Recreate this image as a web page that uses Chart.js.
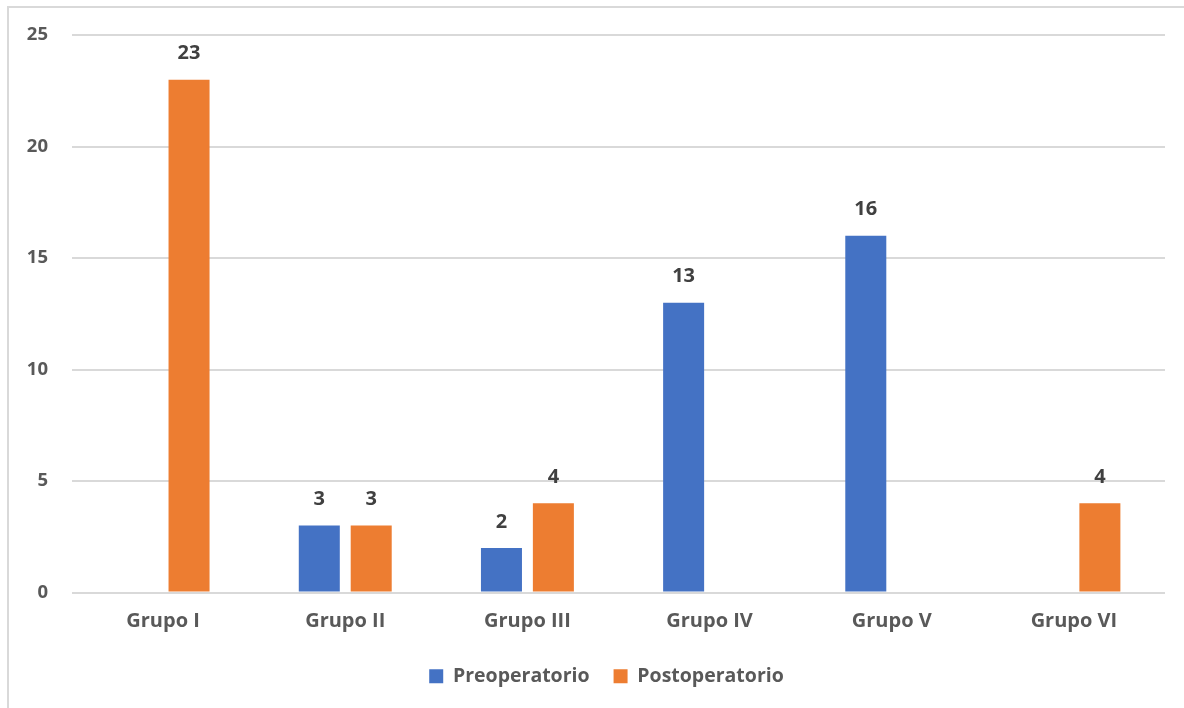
<!DOCTYPE html>
<html>
<head>
<meta charset="utf-8">
<script src="https://cdn.jsdelivr.net/npm/chart.js@4"></script>
<style>
  html, body { margin: 0; padding: 0; background: #fff; overflow: hidden; }
  .frame { position: absolute; left: 7px; top: 6px; width: 1220px; height: 740px; border: 2px solid #d9d9d9; }
  .wrap { position: absolute; left: 0; top: 0; width: 1184px; height: 708px; }
</style>
</head>
<body>
<div class="frame"></div>
<div class="wrap"><canvas id="grupos"></canvas></div>
<script>
const categories = ['Grupo I', 'Grupo II', 'Grupo III', 'Grupo IV', 'Grupo V', 'Grupo VI'];
const preoperatorio = [null, 3, 2, 13, 16, null];
const postoperatorio = [23, 3, 4, null, null, 4];
const yTicks = [0, 5, 10, 15, 20, 25];

// simple value labels above each bar
const barLabels = {
  id: 'barLabels',
  afterDatasetsDraw(chart) {
    const ctx = chart.ctx;
    ctx.save();
    ctx.font = 'bold 20px "Open Sans"';
    ctx.fillStyle = '#404040';
    ctx.textAlign = 'center';
    ctx.textBaseline = 'middle';
    chart.data.datasets.forEach((ds, i) => {
      chart.getDatasetMeta(i).data.forEach((bar, j) => {
        if (ds.data[j] == null) return;
        ctx.fillText(ds.data[j], bar.x, bar.y - 26);
      });
    });
    ctx.restore();
  }
};

// nudge the legend a bit right, like the original
const legendShift = {
  id: 'legendShift',
  afterLayout(chart) {
    chart.legend.left += 19;
    chart.legend.right += 19;
  }
};

document.addEventListener('DOMContentLoaded', function () {
  const ctx = document.getElementById('grupos').getContext('2d');

  new Chart(ctx, {
    type: 'bar',
    data: {
      labels: categories,
      datasets: [
        {
          label: 'Preoperatorio',
          data: preoperatorio,
          backgroundColor: '#4472c4'
        },
        {
          label: 'Postoperatorio',
          data: postoperatorio,
          backgroundColor: '#ed7d31'
        }
      ]
    },
    options: {
      responsive: true,
      maintainAspectRatio: false,
      animation: false,
      categoryPercentage: 0.57,
      barPercentage: 0.79,
      layout: { padding: { left: 10, right: 19, top: 27, bottom: 12 } },
      plugins: {
        legend: {
          position: 'bottom',
          labels: {
            boxWidth: 14,
            boxHeight: 14,
            padding: 24,
            color: '#595959',
            font: { family: 'Open Sans', size: 19.5, weight: 'bold' }
          }
        },
        tooltip: { enabled: false }
      },
      scales: {
        x: {
          grid: { display: false },
          border: { display: false },
          ticks: {
            color: '#595959',
            padding: 9,
            font: { family: 'Open Sans', size: 20, weight: 'bold' }
          }
        },
        y: {
          min: 0,
          max: 25,
          afterBuildTicks(scale) { scale.ticks = yTicks.map(v => ({ value: v })); },
          afterFit(scale) { scale.width = 62; },
          grid: { color: '#d9d9d9', lineWidth: 2, drawTicks: false },
          border: { display: false },
          ticks: {
            color: '#595959',
            padding: 24,
            font: { family: 'Open Sans', size: 18.5, weight: 'bold' }
          }
        }
      }
    },
    plugins: [barLabels, legendShift]
  });
});
</script>
</body>
</html>
